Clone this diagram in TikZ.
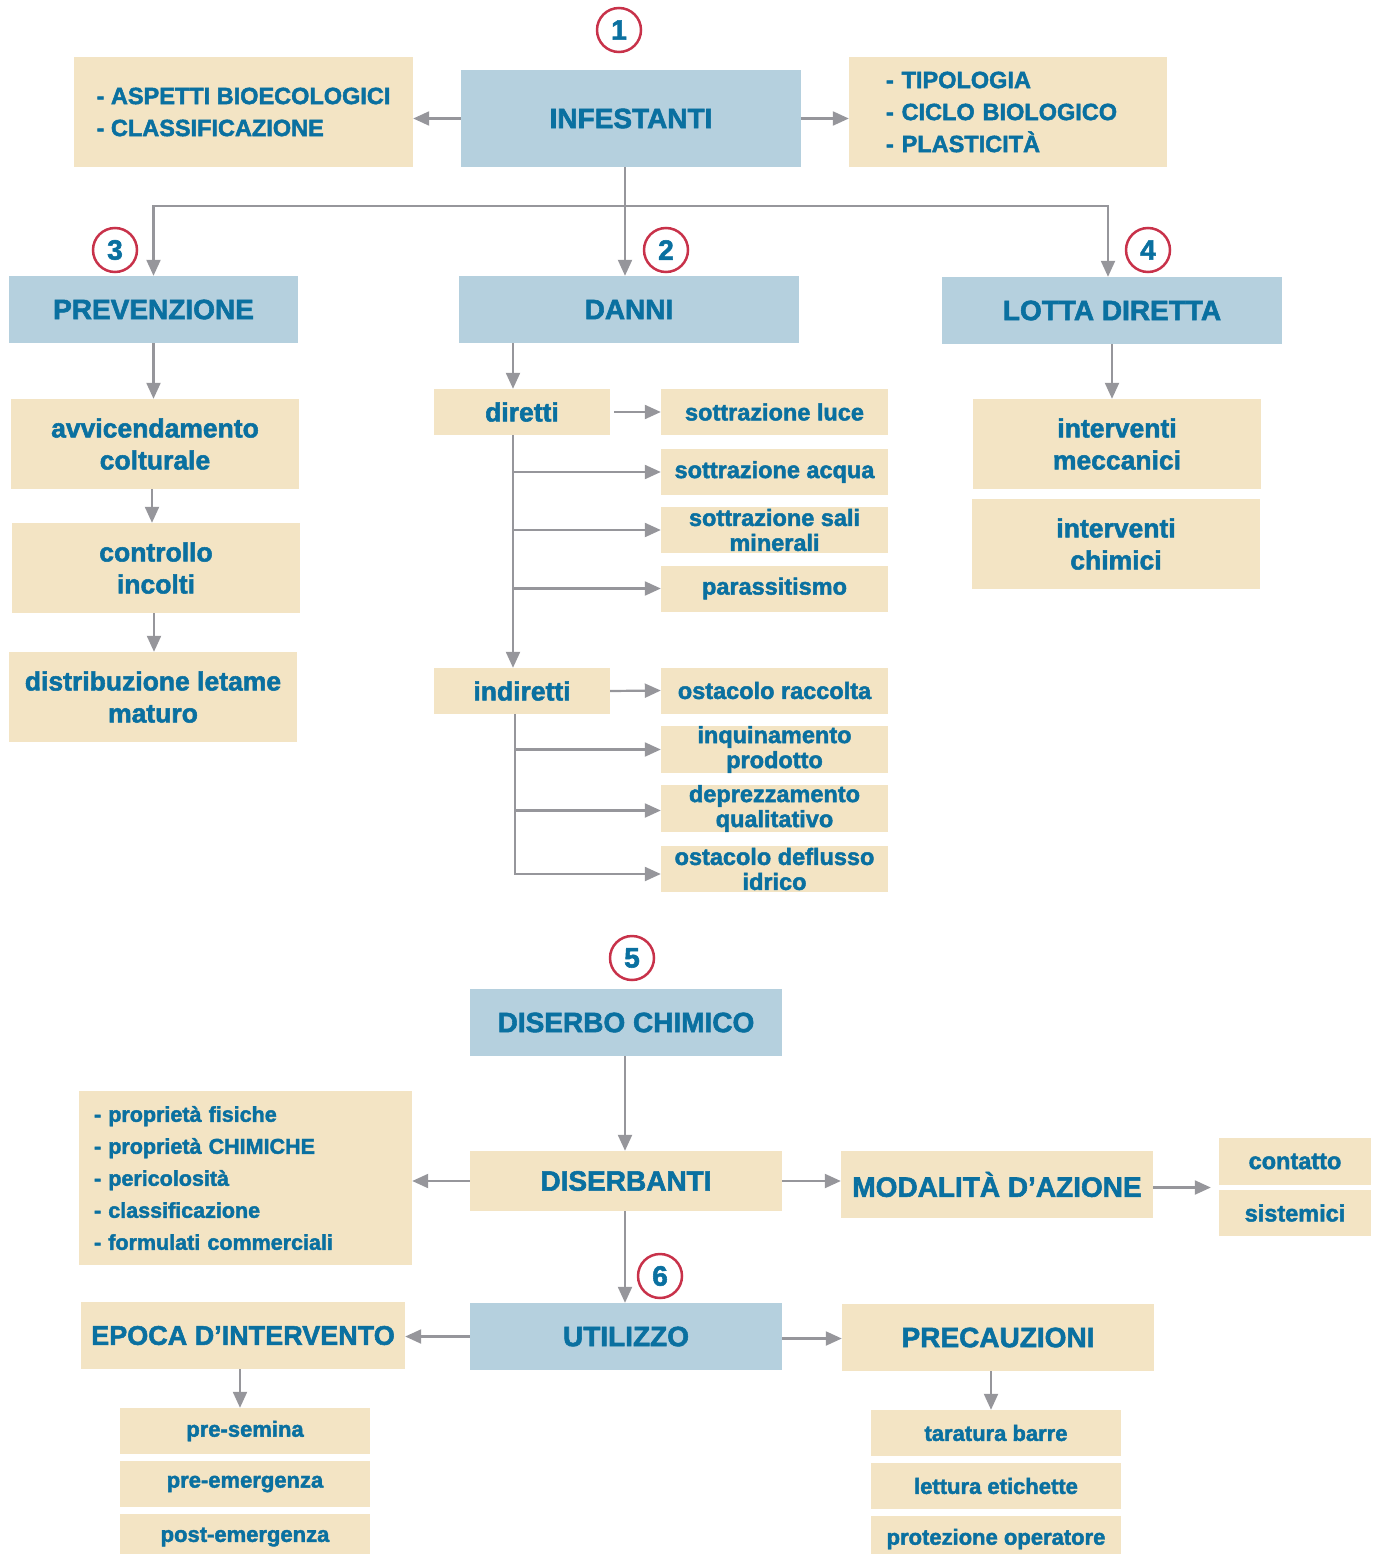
\documentclass[tikz,border=0pt]{standalone}
\usepackage{fontspec}
\setmainfont{Liberation Sans}[BoldFeatures={FakeBold=2}]
\usepackage{xcolor}
\usepackage{tikz}
\usetikzlibrary{arrows.meta,positioning,calc}

\definecolor{boxblue}{HTML}{B5D0DE}
\definecolor{boxbeige}{HTML}{F3E4C4}
\definecolor{txtblue}{HTML}{0A70A0}
\definecolor{numred}{HTML}{C8324A}
\definecolor{arrgray}{HTML}{96969B}

\begin{document}
\begin{tikzpicture}[x=1pt, y=-1pt,
  head/.style={fill=boxblue, text=txtblue, inner sep=0pt, align=center,
    font=\fontsize{28}{32}\selectfont\bfseries},
  item/.style={fill=boxbeige, text=txtblue, inner sep=0pt, align=center,
    font=\fontsize{23.5}{25}\selectfont\bfseries},
  mid/.style={item, font=\fontsize{26.5}{32}\selectfont\bfseries},
  low/.style={item, font=\fontsize{22}{25}\selectfont\bfseries},
  list/.style={item, align=left, font=\fontsize{23.5}{32}\selectfont\bfseries},
  num/.style={circle, draw=numred, line width=2.5pt, minimum size=44pt, inner sep=0pt,
    text=txtblue, font=\fontsize{28}{30}\selectfont\bfseries},
  arr/.style={arrgray, line width=2.2pt, -{Triangle[length=16pt, width=14pt]}},
  lin/.style={arrgray, line width=2.2pt}]
  \clip (0,0) rectangle (1378,1554);
  % block 1
  \node[num] (n1) at (619,30) {1};
  \node[head, minimum width=340, minimum height=97] (infestanti) at (631,118.5) {INFESTANTI};
  \node[list, minimum width=339, minimum height=110] (aspetti) at (243.5,112)
    {- ASPETTI BIOECOLOGICI\\- CLASSIFICAZIONE};
  \node[list, text width=244, inner xsep=37, minimum height=110] (tipologia) at (1008,112)
    {- TIPOLOGIA\\- CICLO BIOLOGICO\\- PLASTICITÀ};
  \draw[arr] (infestanti.west) -- (infestanti.west -| aspetti.east);
  \draw[arr] (infestanti.east) -- (infestanti.east -| tipologia.west);
  % three branches
  \node[head, minimum width=289, minimum height=67] (prevenzione) at (153.5,309.5) {PREVENZIONE};
  \node[head, minimum width=340, minimum height=67] (danni) at (629,309.5) {DANNI};
  \node[head, minimum width=340, minimum height=67] (lotta) at (1112,310.5) {LOTTA DIRETTA};
  \node[num] (n3) at (115,250) {3};
  \node[num] (n2) at (666,250) {2};
  \node[num] (n4) at (1148,250) {4};
  \coordinate (hub) at (625,206);
  \draw[lin] (infestanti.south -| hub) -- (hub);
  \draw[arr] (hub) -- (danni.north -| hub);
  \draw[arr] (hub) -| (prevenzione.north);
  \draw[arr] (hub) -| ([xshift=-4]lotta.north);
  % prevenzione
  \node[mid, minimum width=288, minimum height=90] (avvic) at (155,444) {avvicendamento\\colturale};
  \node[mid, minimum width=288, minimum height=90] (incolti) at (156,568) {controllo\\incolti};
  \node[mid, minimum width=288, minimum height=90] (letame) at (153,697) {distribuzione letame\\maturo};
  \draw[arr] (prevenzione.south) -- (prevenzione.south |- avvic.north);
  \draw[arr] ([xshift=-3]avvic.south) -- ([xshift=-3]avvic.south |- incolti.north);
  \draw[arr] ([xshift=-2]incolti.south) -- ([xshift=-2]incolti.south |- letame.north);
  % danni
  \node[mid, minimum width=176, minimum height=46] (diretti) at (522,412) {diretti};
  \node[mid, minimum width=176, minimum height=46] (indiretti) at (522,691) {indiretti};
  \node[item, minimum width=227, minimum height=46] (luce) at (774.5,412) {sottrazione luce};
  \node[item, minimum width=227, minimum height=46] (acqua) at (774.5,472) {sottrazione acqua};
  \node[item, minimum width=227, minimum height=46] (sali) at (774.5,530) {sottrazione sali\\minerali};
  \node[item, minimum width=227, minimum height=46] (parass) at (774.5,588.5) {parassitismo};
  \node[item, minimum width=227, minimum height=46] (raccolta) at (774.5,690.5) {ostacolo raccolta};
  \node[item, minimum width=227, minimum height=46] (inquin) at (774.5,749.5) {inquinamento\\prodotto};
  \node[item, minimum width=227, minimum height=46] (deprezz) at (774.5,808.5) {deprezzamento\\qualitativo};
  \node[item, minimum width=227, minimum height=46] (deflusso) at (774.5,869) {ostacolo deflusso\\idrico};
  \coordinate (dtrunk) at (513,435);
  \coordinate (itrunk) at (515,714);
  \draw[arr] (danni.south -| dtrunk) -- (diretti.north -| dtrunk);
  \draw[arr, shorten <=4pt] (diretti.east) -- (luce.west);
  \draw[arr] (dtrunk) -- (indiretti.north -| dtrunk);
  \draw[arr] (dtrunk |- acqua) -- (acqua.west);
  \draw[arr] (dtrunk |- sali) -- (sali.west);
  \draw[arr] (dtrunk |- parass) -- (parass.west);
  \draw[arr] (indiretti.east) -- (raccolta.west);
  \draw[arr] (itrunk) |- ([yshift=-5]deflusso.west);
  \draw[arr] (itrunk |- inquin) -- (inquin.west);
  \draw[arr] ([yshift=-2]itrunk |- deprezz) -- ([yshift=-2]deprezz.west);
  % lotta diretta
  \node[mid, minimum width=288, minimum height=90] (mecc) at (1117,444) {interventi\\meccanici};
  \node[mid, minimum width=288, minimum height=90] (chim) at (1116,544) {interventi\\chimici};
  \draw[arr] (lotta.south) -- (lotta.south |- mecc.north);
  % block 5
  \node[num] (n5) at (632,958) {5};
  \node[head, minimum width=312, minimum height=67] (diserbo) at (626,1022.5) {DISERBO CHIMICO};
  \node[item, font=\fontsize{28}{32}\selectfont\bfseries, minimum width=312, minimum height=60]
    (diserbanti) at (626,1181) {DISERBANTI};
  \node[list, font=\fontsize{21.5}{32}\selectfont\bfseries, text width=303, inner xsep=15,
    minimum height=174] (proprieta) at (245.5,1178)
    {- proprietà fisiche\\- proprietà CHIMICHE\\- pericolosità\\- classificazione\\- formulati commerciali};
  \node[item, font=\fontsize{28}{32}\selectfont\bfseries, minimum width=312, minimum height=67]
    (modalita) at (997,1184.5) {MODALITÀ D’AZIONE};
  \node[item, minimum width=152, minimum height=47] (contatto) at (1295,1161.5) {contatto};
  \node[item, minimum width=152, minimum height=46] (sistemici) at (1295,1213) {sistemici};
  \draw[arr] ([xshift=-1]diserbo.south) -- ([xshift=-1]diserbo.south |- diserbanti.north);
  \draw[arr] (diserbanti.west) -- (diserbanti.west -| proprieta.east);
  \draw[arr] (diserbanti.east) -- (diserbanti.east -| modalita.west);
  \draw[arr, shorten >=8pt] ([yshift=-3]modalita.east) -- ([yshift=-3]modalita.east -| contatto.west);
  % block 6
  \node[num] (n6) at (660,1276) {6};
  \node[head, minimum width=312, minimum height=67] (utilizzo) at (626,1336.5) {UTILIZZO};
  \node[item, font=\fontsize{27}{32}\selectfont\bfseries, minimum width=324, minimum height=67]
    (epoca) at (243,1335.5) {EPOCA D’INTERVENTO};
  \node[item, font=\fontsize{28}{32}\selectfont\bfseries, minimum width=312, minimum height=67]
    (precauz) at (998,1337.5) {PRECAUZIONI};
  \draw[arr] ([xshift=-1]diserbanti.south) -- ([xshift=-1]diserbanti.south |- utilizzo.north);
  \draw[arr] (utilizzo.west) -- (utilizzo.west -| epoca.east);
  \draw[arr] ([yshift=-2]utilizzo.east) -- ([yshift=-2]utilizzo.east -| precauz.west);
  \node[low, minimum width=250, minimum height=46] (presemina) at (245,1431) {pre-semina};
  \node[low, minimum width=250, minimum height=46] (preemerg) at (245,1484) {pre-emergenza};
  \node[low, minimum width=250, minimum height=46] (postemerg) at (245,1537) {post-emergenza};
  \node[low, minimum width=250, minimum height=46] (taratura) at (996,1433) {taratura barre};
  \node[low, minimum width=250, minimum height=46] (lettura) at (996,1486) {lettura etichette};
  \node[low, minimum width=250, minimum height=46] (protez) at (996,1539) {protezione operatore};
  \draw[arr] ([xshift=-3]epoca.south) -- ([xshift=-3]epoca.south |- presemina.north);
  \draw[arr] ([xshift=-7]precauz.south) -- ([xshift=-7]precauz.south |- taratura.north);
\end{tikzpicture}
\end{document}
